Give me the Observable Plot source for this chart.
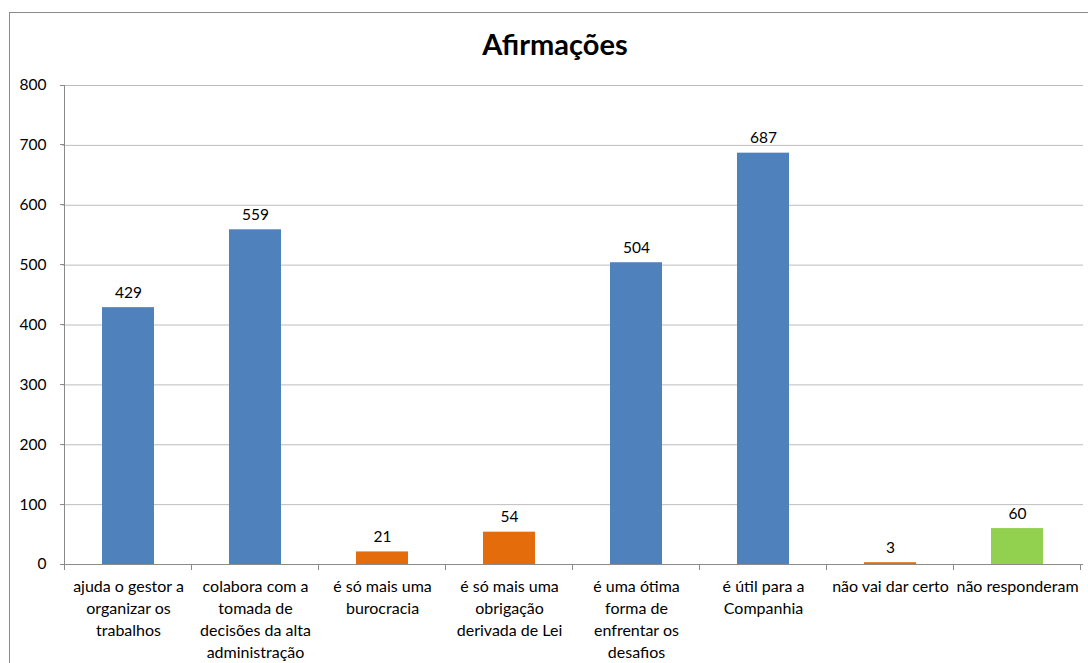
<!DOCTYPE html>
<html>
<head>
<meta charset="utf-8">
<script src="https://cdn.jsdelivr.net/npm/d3@7"></script>
<script src="https://cdn.jsdelivr.net/npm/@observablehq/plot@0.6"></script>
<style>
  body { margin: 0; background: #fff; width: 1088px; height: 663px; overflow: hidden; position: relative; font-family: Lato, "Open Sans", sans-serif; }
  #frame { position: absolute; left: 9px; top: 12px; width: 1200px; height: 800px; border-left: 1.5px solid #8a8a8a; border-top: 1.5px solid #8a8a8a; }
  #title { position: absolute; left: 0; width: 1110px; top: 26px; text-align: center; font: bold 29px Lato, "Open Sans", sans-serif; color: #000; }
  #chart { position: absolute; left: 0; top: 70px; }
</style>
</head>
<body>
<div id="frame"></div>
<div id="title">Afirmações</div>
<div id="chart"></div>
<script>
const categories = [
  "ajuda o gestor a organizar os trabalhos",
  "colabora com a tomada de decisões da alta administração",
  "é só mais uma burocracia",
  "é só mais uma obrigação derivada de Lei",
  "é uma ótima forma de enfrentar os desafios",
  "é útil para a Companhia",
  "não vai dar certo",
  "não responderam"
];
const tickLabels = [
  "ajuda o gestor a\norganizar os\ntrabalhos",
  "colabora com a\ntomada de\ndecisões da alta\nadministração",
  "é só mais uma\nburocracia",
  "é só mais uma\nobrigação\nderivada de Lei",
  "é uma ótima\nforma de\nenfrentar os\ndesafios",
  "é útil para a\nCompanhia",
  "não vai dar certo",
  "não responderam"
];
const values = [429, 559, 21, 54, 504, 687, 3, 60];
const groups = ["pos", "pos", "neg", "neg", "pos", "pos", "neg", "none"];
const yTicks = [0, 100, 200, 300, 400, 500, 600, 700, 800];

const data = categories.map((c, i) => ({cat: c, value: values[i], group: groups[i], label: tickLabels[i]}));

const W = 1088, H = 593, ML = 62, MR = 5, MT = 15, MB = 99;

const chart = Plot.plot({
  width: W, height: H,
  marginLeft: ML, marginRight: MR, marginTop: MT, marginBottom: MB,
  style: {fontFamily: "Lato, 'Open Sans', sans-serif", fontSize: "15px", color: "#000", background: "transparent"},
  x: {domain: categories, paddingInner: 0.59, paddingOuter: 0.295, axis: null},
  y: {domain: [0, 800], axis: null},
  color: {domain: ["pos", "neg", "none"], range: ["#4F81BD", "#E46C0A", "#92D050"]},
  marks: [
    Plot.ruleY(yTicks.filter(d => d > 0), {y: d => d, stroke: "#bdbdbd", strokeWidth: 1}),
    Plot.barY(data, {x: "cat", y: "value", fill: "group"}),
    Plot.ruleY([0], {stroke: "#8a8a8a", strokeWidth: 1}),
    Plot.text(yTicks, {y: d => d, text: d => String(d), frameAnchor: "left", textAnchor: "end", dx: -16, fontSize: 15.5, fill: "#000"}),
    Plot.text(data, {x: "cat", y: "value", text: d => String(d.value), lineAnchor: "bottom", dy: -10, fontSize: 15.5, fill: "#000"}),
    Plot.text(data, {x: "cat", text: "label", frameAnchor: "bottom", lineAnchor: "top", dy: 12, fontSize: 16, lineHeight: 1.38, fill: "#000"})
  ]
});
document.getElementById("chart").appendChild(chart);

// axis line, boundary tick marks and y tick marks, placed through the chart's scales
const xs = chart.scale("x"), ys = chart.scale("y");
const band = xs.bandwidth;
const step = xs.step !== undefined ? xs.step : (W - ML - MR) / categories.length;
const svg = d3.select(chart);
const g = svg.append("g").attr("stroke", "#8a8a8a").attr("shape-rendering", "crispEdges");
const y0 = ys.apply(0), yTop = ys.apply(800);
const x0 = xs.apply(categories[0]) - (step - band) / 2;
g.append("line").attr("x1", x0).attr("x2", x0).attr("y1", yTop).attr("y2", y0);
categories.forEach((c, i) => {
  const left = xs.apply(c) - (step - band) / 2;
  g.append("line").attr("x1", left).attr("x2", left).attr("y1", y0).attr("y2", y0 + 6);
  if (i === categories.length - 1) {
    const right = left + step;
    g.append("line").attr("x1", right).attr("x2", right).attr("y1", y0).attr("y2", y0 + 6);
  }
});
yTicks.forEach(t => {
  g.append("line").attr("x1", x0 - 5).attr("x2", x0).attr("y1", ys.apply(t)).attr("y2", ys.apply(t));
});
</script>
</body>
</html>
